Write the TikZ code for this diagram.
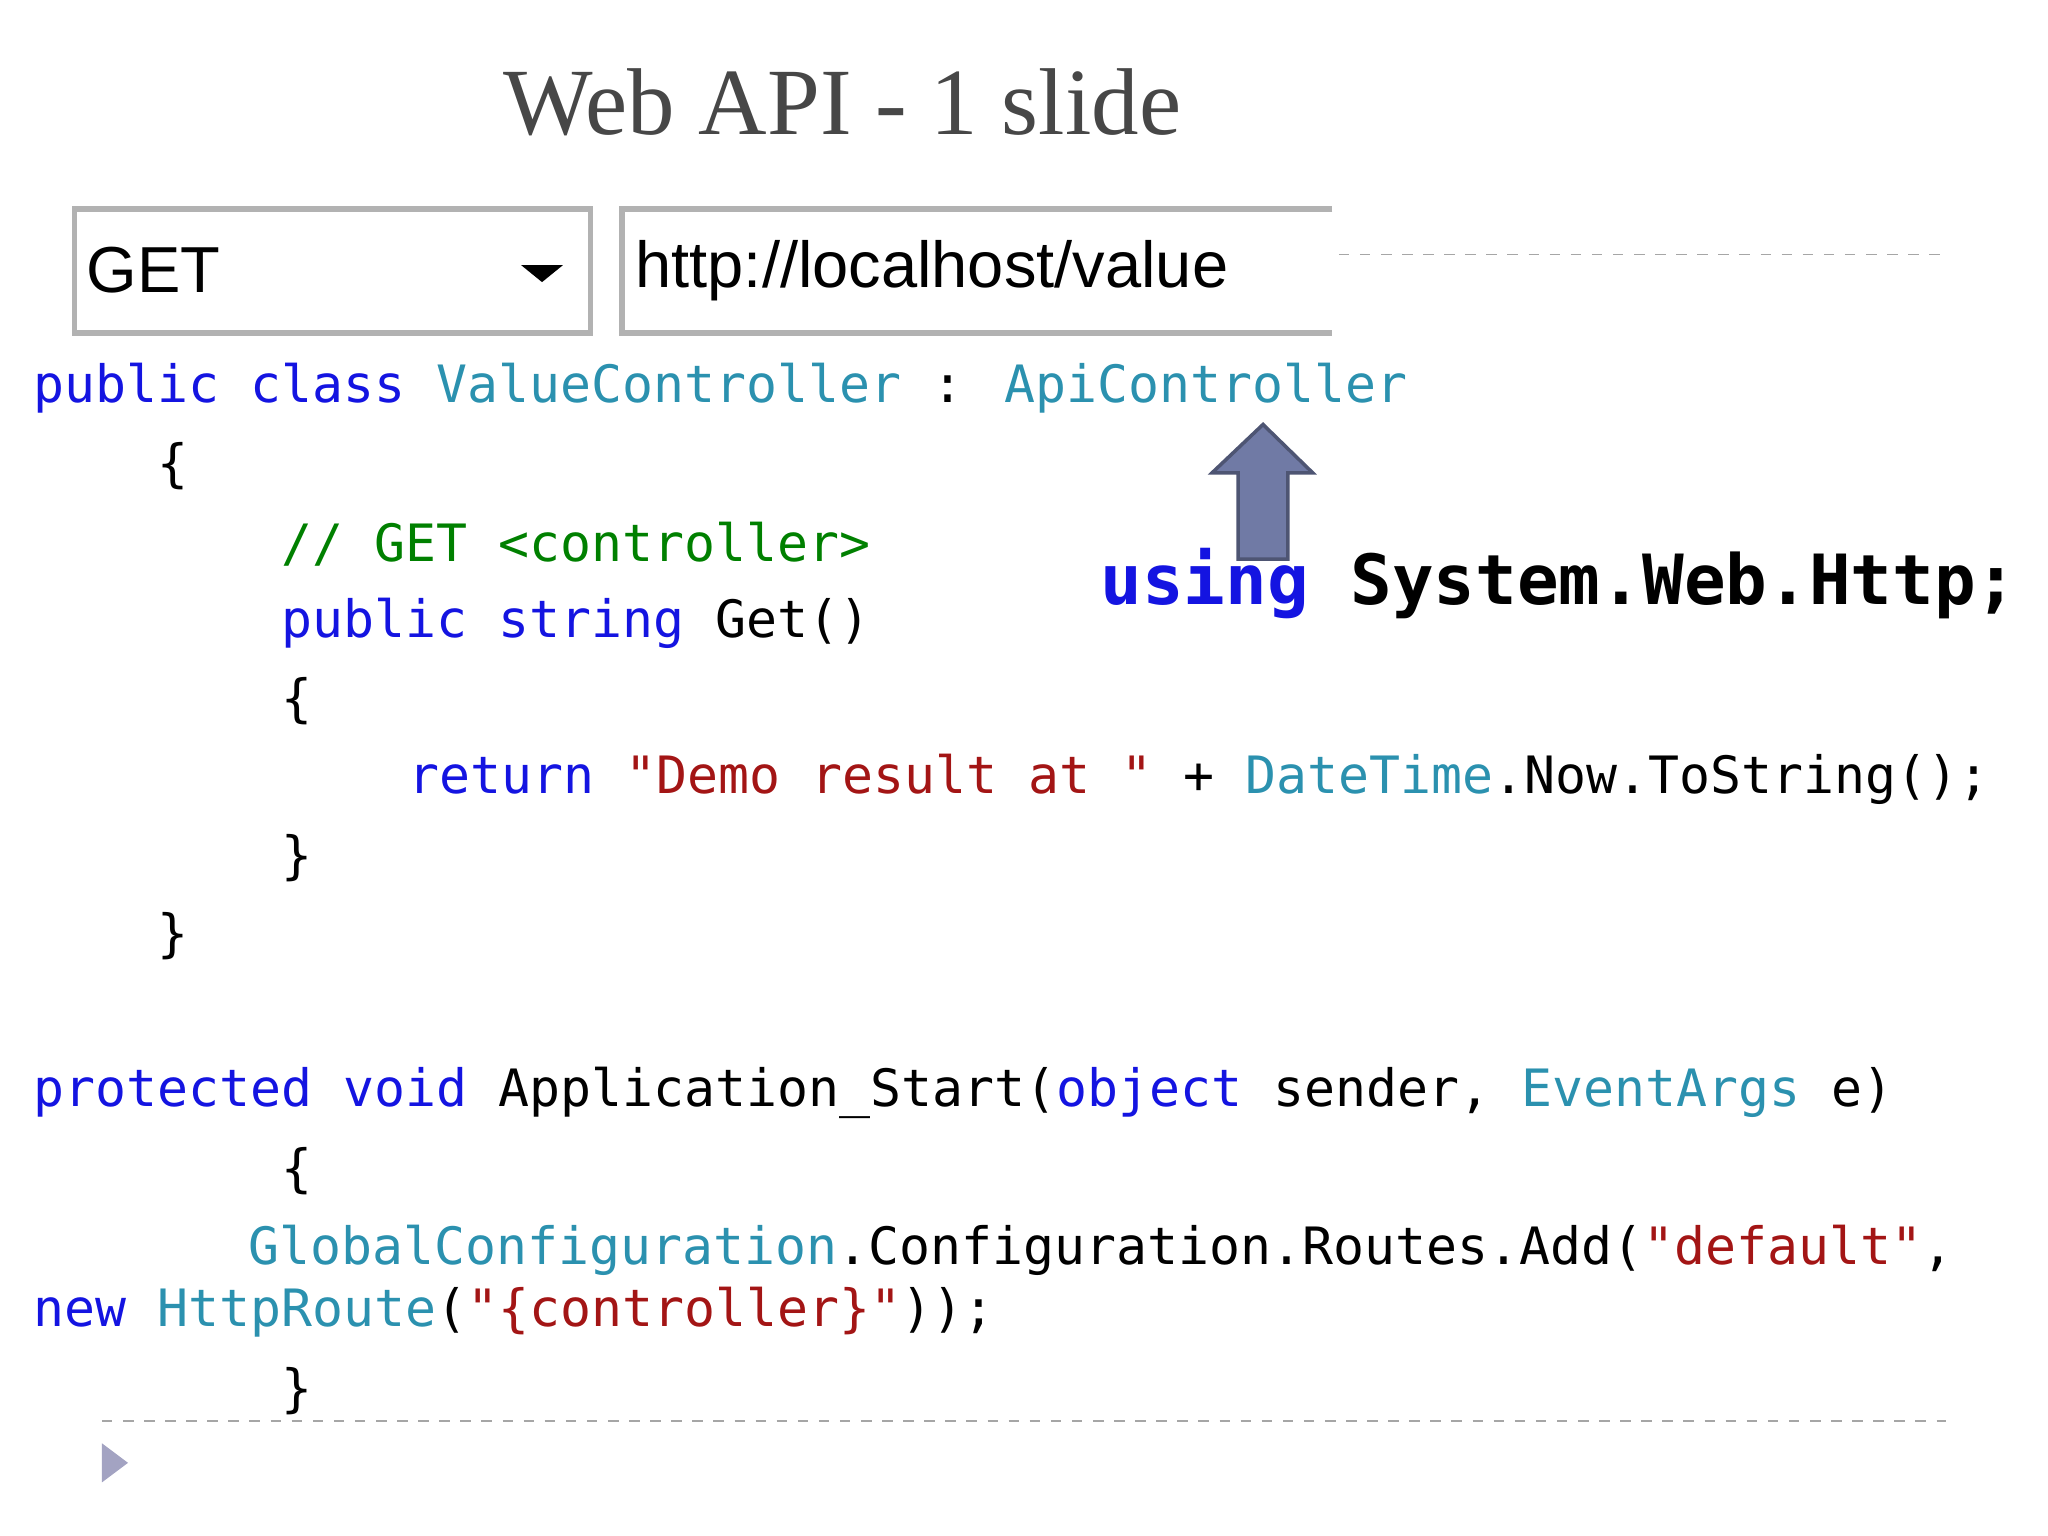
\documentclass[tikz,border=0pt]{standalone}
\usepackage{fontspec}
\usepackage{tikz}
\newfontfamily\codefont{DejaVu Sans Mono}
\newfontfamily\uifont{Liberation Sans}
\newfontfamily\titlefont{Liberation Serif}
\definecolor{kwblue}{RGB}{20,20,225}
\definecolor{tyteal}{RGB}{43,145,175}
\definecolor{strred}{RGB}{163,21,21}
\definecolor{cmgreen}{RGB}{0,128,0}
\definecolor{arrowfill}{RGB}{112,122,165}
\newcommand{\kw}[1]{\textcolor{kwblue}{#1}}
\newcommand{\ty}[1]{\textcolor{tyteal}{#1}}
\newcommand{\str}[1]{\textcolor{strred}{#1}}
\tikzset{code/.style={anchor=west,inner sep=0pt,font=\codefont\fontsize{14.65}{16}\selectfont},
  uibox/.style={draw=gray!60,line width=1.6pt,fill=white},
  uitext/.style={anchor=west,inner sep=0pt,font=\uifont\fontsize{18.5}{22}\selectfont}}
\begin{document}
\begin{tikzpicture}[x=0.01306cm,y=-0.01306cm]
  \useasboundingbox (0,0) rectangle (1568,1176);
  \node[font=\titlefont\fontsize{27}{30}\selectfont,text=black!72] (title) at (645,78) {Web API - 1 slide};
  % request bar
  \filldraw[uibox] (57,160) rectangle (452,255);
  \draw[uibox] (1020,160) -- (476,160) -- (476,255) -- (1020,255);
  \node[uitext] (verb) at (66,207) {GET};
  \fill (399,203) -- (431,203) -- (415,216) -- cycle;
  \node[uitext] (url) at (486,207) {http://localhost/value};
  \draw[dashed,gray!70] (1025,195) -- (1490,195);
  % code
  \node[code] (l1) at (25,297) {\kw{public class} \ty{ValueController} : \ty{ApiController}};
  \node[code] (l2) at (120,357) {\{};
  \node[code,text=cmgreen] (l3) at (215,417) {// GET <controller>};
  \node[code] (l4) at (215,477) {\kw{public string} Get()};
  \node[code] (l5) at (215,537) {\{};
  \node[code] (l6) at (312,597) {\kw{return} \str{"Demo result at "} + \ty{DateTime}.Now.ToString();};
  \node[code] (l7) at (215,657) {\}};
  \node[code] (l8) at (120,717) {\}};
  \node[code] (l9) at (25,837) {\kw{protected void} Application\_Start(\kw{object} sender, \ty{EventArgs} e)};
  \node[code] (l10) at (215,897) {\{};
  \node[code] (l11) at (190,957) {\ty{GlobalConfiguration}.Configuration.Routes.Add(\str{"default"},};
  \node[code] (l12) at (25,1005) {\kw{new} \ty{HttpRoute}(\str{"\{controller\}"}));};
  \node[code] (l13) at (215,1065) {\}};
  % using + arrow
  \filldraw[draw=arrowfill!70!black,fill=arrowfill,line width=1pt]
    (948,428) -- (948,362) -- (928,362) -- (967,325) -- (1005,362) -- (986,362) -- (986,428) -- cycle;
  \node[code,font=\codefont\bfseries\fontsize{19.7}{22}\selectfont] (using) at (842,447) {\kw{using} System.Web.Http;};
  \draw[dashed,gray!70] (78,1088) -- (1490,1088);
  \fill[blue!20!gray!60] (78,1105) -- (98,1120) -- (78,1135) -- cycle;
\end{tikzpicture}
\end{document}
